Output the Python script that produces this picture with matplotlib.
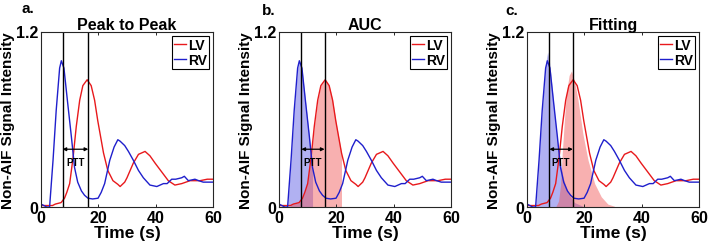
import matplotlib

matplotlib.use("Agg")
import matplotlib.pyplot as plt
import numpy as np

plt.rcParams["font.family"] = ["Liberation Sans", "DejaVu Sans"]
plt.rcParams["font.weight"] = "bold"

# measured curves (time in s, non-AIF signal intensity)
rv_t = np.array([0, 1, 2, 3, 4.2, 5.3, 6.5, 7.1, 8.0, 9.2, 10.6, 11.7, 12.8, 14.1, 15.2, 16.4,
                 18, 19.9, 21, 22.2, 24, 25.5, 26.8, 27.6, 29.2, 30.5, 32.2, 34, 35.7, 38,
                 40.4, 42.7, 44, 45.6, 47, 49.1, 50, 51.4, 53.7, 55, 56.6, 58, 60])
rv_val = np.array([0.02, 0.01, 0.0, 0.0, 0.32, 0.66, 0.95, 1.0, 0.95, 0.73, 0.48, 0.27, 0.17,
                   0.11, 0.08, 0.06, 0.055, 0.06, 0.1, 0.16, 0.32, 0.41, 0.46, 0.45, 0.42, 0.38,
                   0.32, 0.25, 0.20, 0.15, 0.14, 0.16, 0.16, 0.19, 0.19, 0.20, 0.21, 0.18, 0.19,
                   0.18, 0.17, 0.17, 0.17])
lv_t = np.array([0, 2, 4, 5, 7, 8.2, 9, 10, 11.2, 12.3, 13.5, 14.6, 16.1, 17.5, 18.7, 19.8,
                 21.8, 23.3, 25.1, 26.8, 27.6, 29.2, 30, 32.2, 34, 36.3, 38, 39.8, 42.1, 44.4,
                 46.7, 49.1, 52, 55.5, 58, 60])
lv_val = np.array([0.01, 0.01, 0.01, 0.02, 0.03, 0.06, 0.1, 0.16, 0.34, 0.55, 0.73, 0.83, 0.87,
                   0.83, 0.73, 0.59, 0.37, 0.25, 0.18, 0.155, 0.14, 0.17, 0.20, 0.30, 0.36, 0.38,
                   0.35, 0.30, 0.24, 0.18, 0.15, 0.16, 0.18, 0.18, 0.19, 0.19])

# gamma-variate fits shown in panel c
rv_fit_t = np.array([3.0, 3.8, 4.5, 5.1, 5.7, 6.5, 7.2, 7.8, 8.3, 9.5, 10.9, 12.6, 14.4, 16.6, 19.5, 22])
rv_fit_val = np.array([0, 0.2, 0.43, 0.6, 0.77, 0.98, 1.06, 1.0, 0.91, 0.66, 0.41, 0.20, 0.09, 0.03, 0.005, 0])
lv_fit_t = np.array([10, 11, 11.7, 12.3, 12.9, 13.7, 14.7, 15.5, 16.6, 17.8, 19.5, 21.3, 23.6, 25.9, 28.2, 30.5])
lv_fit_val = np.array([0, 0.04, 0.15, 0.37, 0.55, 0.77, 0.90, 0.93, 0.86, 0.73, 0.50, 0.32, 0.16, 0.07, 0.02, 0.005])

panel_titles = ["Peak to Peak", "AUC", "Fitting"]
panel_letters = ["a.", "b.", "c."]
peak_lines = [(7.5, 16.5), (7.8, 15.9), (7.8, 16.0)]
rv_auc_range = (3.0, 11.7)
lv_auc_range = (3.0, 21.8)

RED = "#e8191c"
BLUE = "#1f1fcc"
FRAME = "#262626"

fig = plt.figure(figsize=(7.09, 2.51), dpi=100)
lefts = [41, 279, 527]
letter_pos = [(22, 9), (262, 11), (505, 11)]

for i, left in enumerate(lefts):
    ax = fig.add_axes([left / 709, 43 / 251, 172 / 709, 175.5 / 251])

    if i == 1:
        m = (rv_t >= rv_auc_range[0]) & (rv_t <= rv_auc_range[1])
        ax.fill_between(rv_t[m], rv_val[m], color="#4646e0", alpha=0.42, lw=0)
        m = (lv_t >= lv_auc_range[0]) & (lv_t <= lv_auc_range[1])
        ax.fill_between(lv_t[m], lv_val[m], color="#f05050", alpha=0.45, lw=0)
    if i == 2:
        ax.fill_between(rv_fit_t, rv_fit_val, color="#4646e0", alpha=0.42, lw=0)
        ax.fill_between(lv_fit_t, lv_fit_val, color="#f05050", alpha=0.45, lw=0)

    ax.plot(lv_t, lv_val, color=RED, lw=1.0, label="LV")
    ax.plot(rv_t, rv_val, color=BLUE, lw=1.0, label="RV")

    p1, p2 = peak_lines[i]
    ax.axvline(p1, color="black", lw=1.0)
    ax.axvline(p2, color="black", lw=1.0)
    ax.annotate("", xy=(p1, 0.395), xytext=(p2, 0.395),
                arrowprops=dict(arrowstyle="<|-|>", color="black", lw=0.9,
                                mutation_scale=5, shrinkA=0, shrinkB=0))
    ax.text((p1 + p2) / 2, 0.31, "PTT", ha="center", va="center", fontsize=7,
            fontweight="bold")

    ax.set_xlim(0, 60)
    ax.set_ylim(0, 1.2)
    ax.set_xticks([0, 20, 40, 60])
    ax.set_yticks([0, 1.2])
    ax.set_yticklabels(["0", "1.2"])
    ax.tick_params(direction="in", top=True, right=True, length=2.5, width=0.7,
                   labelsize=11.5, pad=2, color=FRAME)
    for s in ax.spines.values():
        s.set_color(FRAME)
        s.set_linewidth(0.8)

    ax.set_xlabel("Time (s)", fontsize=12.5, fontweight="bold", labelpad=0)
    ax.set_ylabel("Non-AIF Signal Intensity", fontsize=11, fontweight="bold", va="center")
    ax.yaxis.set_label_coords(-0.19, 0.5)
    ax.set_title(panel_titles[i], fontsize=11.5, fontweight="bold", pad=2)

    leg = ax.legend(loc="upper right", fontsize=10, handlelength=0.9, handletextpad=0.1,
                    borderpad=0.15, labelspacing=0.1, borderaxespad=0.3, fancybox=False,
                    framealpha=1)
    leg.get_frame().set_edgecolor("black")
    leg.get_frame().set_linewidth(0.8)
    for t in leg.get_texts():
        t.set_fontweight("bold")

    lx, ly = letter_pos[i]
    fig.text(lx / 709, 1 - ly / 251, panel_letters[i], fontsize=11, fontweight="bold",
             va="center")

fig.savefig("out.png", dpi=100)
